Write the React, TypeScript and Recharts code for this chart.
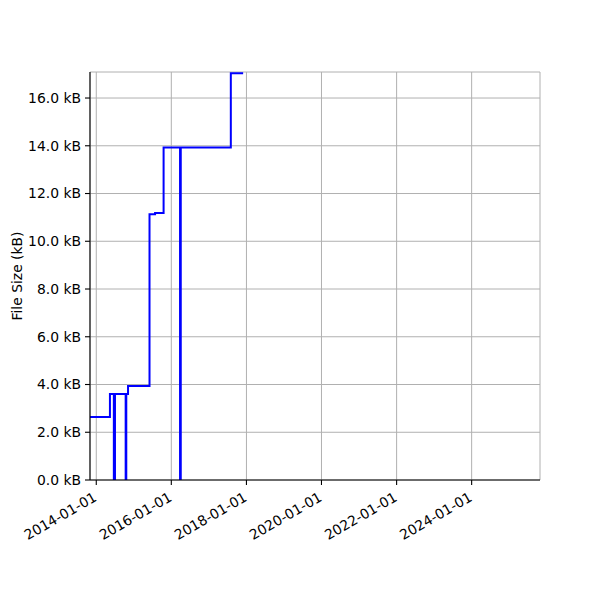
import React from 'react';
import { LineChart, Line, XAxis, YAxis, CartesianGrid } from 'recharts';

// Dates of changes and file size (kB) after each change
const changeDates = [
  '2013-11-01', '2014-05-14', '2014-06-21', '2014-07-02', '2014-10-14', '2014-10-20',
  '2014-11-06', '2015-06-03', '2015-07-27', '2015-10-18', '2016-03-26', '2016-04-02',
  '2017-08-02', '2017-11-30',
];
const fileSizes = [
  2.64, 3.6, 0, 3.6, 0, 3.6,
  3.94, 11.13, 11.18, 13.93, 0, 13.93,
  17.04, 17.04,
];
const xTickDates = ['2014-01-01', '2016-01-01', '2018-01-01', '2020-01-01', '2022-01-01', '2024-01-01'];
const yTickValues = [0, 2, 4, 6, 8, 10, 12, 14, 16];
const xDomainDates = ['2013-11-01', '2025-10-27'];
const yDomain = [0, 17.09];

const toTs = (s: string) => Date.parse(s + 'T00:00:00Z');
const data = changeDates.map((d, i) => ({ t: toTs(d), size: fileSizes[i] }));
const xTicks = xTickDates.map(toTs);
const xDomain = xDomainDates.map(toTs);

const FONT = 'DejaVu Sans, sans-serif';
const FS = 13.9;

const fmtDate = (v: number) => new Date(v).toISOString().slice(0, 10);

const DateTick = (props: any) => {
  const { x, y, payload } = props;
  return (
    <text
      transform={`translate(${x + 1.5},${y + 13}) rotate(-30)`}
      textAnchor="end"
      fontFamily={FONT}
      fontSize={FS}
      fill="#000"
    >
      {fmtDate(payload.value)}
    </text>
  );
};

export default function App() {
  return (
    <div style={{ position: 'absolute', left: 0, top: 0, width: 600, height: 600, background: '#fff' }}>
      <LineChart
        width={600}
        height={600}
        data={data}
        margin={{ top: 72, right: 60, bottom: 0, left: 0 }}
      >
        <CartesianGrid stroke="#b0b0b0" strokeWidth={1} vertical horizontal xAxisId={0} yAxisId={0} />
        <XAxis
          xAxisId={0}
          dataKey="t"
          type="number"
          scale="time"
          domain={xDomain}
          ticks={xTicks}
          allowDataOverflow
          height={120}
          tickSize={5}
          tickLine={{ stroke: '#000', strokeWidth: 1.1 }}
          axisLine={{ stroke: '#000', strokeWidth: 1.1 }}
          tick={<DateTick />}
          interval={0}
        />
        <XAxis
          xAxisId="top"
          orientation="top"
          dataKey="t"
          type="number"
          domain={xDomain}
          height={0}
          tick={false}
          tickLine={false}
          axisLine={{ stroke: '#000', strokeWidth: 1.1 }}
        />
        <YAxis
          yAxisId={0}
          type="number"
          domain={yDomain}
          ticks={yTickValues}
          allowDataOverflow
          width={90}
          tickSize={5}
          tickMargin={4}
          interval={0}
          tickFormatter={(v: number) => `${v.toFixed(1)} kB`}
          tick={{ fill: '#000', fontFamily: FONT, fontSize: FS }}
          tickLine={{ stroke: '#000', strokeWidth: 1.1 }}
          axisLine={{ stroke: '#000', strokeWidth: 1.1 }}
          label={{
            value: 'File Size (kB)',
            angle: -90,
            position: 'insideLeft',
            offset: 17,
            style: { textAnchor: 'middle', fontFamily: FONT, fontSize: FS, fill: '#000' },
          }}
        />
        <YAxis
          yAxisId="right"
          orientation="right"
          type="number"
          domain={yDomain}
          width={0}
          tick={false}
          tickLine={false}
          axisLine={{ stroke: '#000', strokeWidth: 1.1 }}
        />
        <Line
          xAxisId={0}
          yAxisId={0}
          type="stepAfter"
          dataKey="size"
          stroke="#0000ff"
          strokeWidth={2}
          dot={false}
          activeDot={false}
          isAnimationActive={false}
        />
      </LineChart>
    </div>
  );
}
